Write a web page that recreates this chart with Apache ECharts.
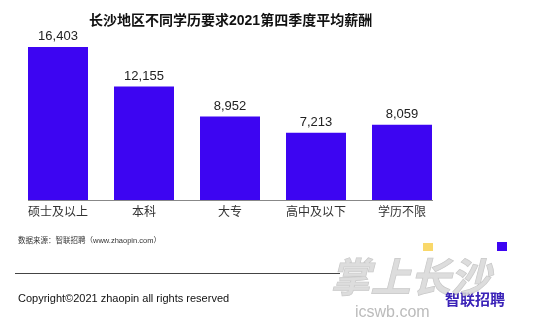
<!DOCTYPE html>
<html><head><meta charset="utf-8">
<script src="https://cdn.jsdelivr.net/npm/echarts@6/dist/echarts.min.js"></script>
<style>html,body{margin:0;padding:0;background:#fff}#c{width:549px;height:325px}</style>
</head><body><div id="c"></div>
<script>
const categories = ['硕士及以上', '本科', '大专', '高中及以下', '学历不限'];
const salaries = [16403, 12155, 8952, 7213, 8059];
const titleText = '长沙地区不同学历要求2021第四季度平均薪酬';
const sourceText = '数据来源：智联招聘（www.zhaopin.com）';
const copyrightText = 'Copyright©2021 zhaopin all rights reserved';

const FONT = '"Liberation Sans", Arial, "Noto Sans CJK SC", sans-serif';
const chart = echarts.init(document.getElementById('c'), null, {renderer: 'canvas'});
chart.setOption({
  animation: false,
  backgroundColor: '#fff',
  title: {
    text: titleText, left: 84, top: 9,
    textStyle: {fontSize: 14, fontWeight: 'bold', color: '#111', fontFamily: FONT}
  },
  grid: {left: 15, width: 430, top: 47, bottom: 125},
  xAxis: {
    type: 'category', data: categories,
    axisLine: {show: false}, axisTick: {show: false},
    axisLabel: {fontSize: 12, color: '#333', margin: 7, fontFamily: FONT}
  },
  yAxis: {type: 'value', min: 0, max: 'dataMax', show: false, splitLine: {show: false}},
  series: [{
    type: 'bar', data: salaries, barWidth: 60,
    itemStyle: {color: '#3d05f2'},
    label: {
      show: true, position: 'top', distance: 4, fontSize: 13, color: '#222', fontFamily: FONT,
      formatter: p => p.value.toLocaleString('en-US')
    }
  }],
  graphic: [
    {type: 'line', shape: {x1: 28, y1: 200.5, x2: 433, y2: 200.5}, style: {stroke: '#888', lineWidth: 1}},
    {type: 'text', left: 18, top: 237, style: {text: sourceText, fontSize: 7.5, fill: '#333', fontFamily: FONT}},
    {type: 'rect', shape: {x: 423, y: 243, width: 10, height: 8}, style: {fill: '#f9d86a'}},
    {type: 'rect', shape: {x: 497, y: 242, width: 10, height: 9}, style: {fill: '#3d05f2'}},
    {type: 'line', shape: {x1: 15, y1: 273.5, x2: 340, y2: 273.5}, style: {stroke: '#444', lineWidth: 1}},
    {type: 'text', left: 18, top: 293, style: {text: copyrightText, fontSize: 11, fill: '#111', fontFamily: FONT}},
    {type: 'text', left: 445, top: 293, style: {text: '智联招聘', fontSize: 15, fontWeight: 'bold', fill: '#3a22b8', fontFamily: FONT}},
    {type: 'text', left: 330, top: 260, style: {text: '掌上长沙', fontSize: 40, fontWeight: 'bold', fontStyle: 'italic', fill: 'rgba(215,215,215,0.85)', stroke: 'rgba(160,160,160,0.6)', lineWidth: 1, fontFamily: FONT}},
    {type: 'text', left: 355, top: 305, style: {text: 'icswb.com', fontSize: 16, fill: 'rgba(180,180,180,0.9)', fontFamily: FONT, letterSpacing: 3}}
  ]
});
</script></body></html>
